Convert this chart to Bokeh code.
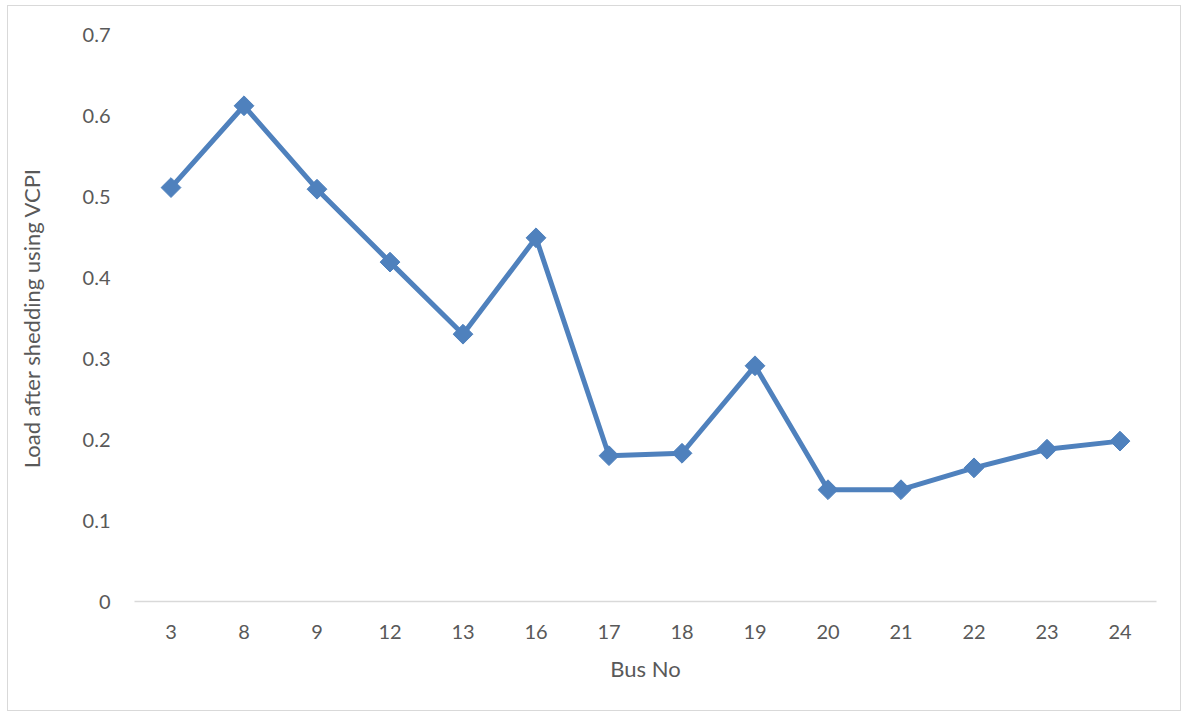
import math
from bokeh.plotting import figure
from bokeh.models import FactorRange, Range1d, FixedTicker
from bokeh.embed import file_html
from bokeh.resources import INLINE

buses = ["3", "8", "9", "12", "13", "16", "17", "18", "19", "20", "21", "22", "23", "24"]
load_after = [0.511, 0.612, 0.509, 0.419, 0.330, 0.449, 0.180, 0.183, 0.291, 0.138, 0.138, 0.165, 0.188, 0.198]
y_ticks = [0, 0.1, 0.2, 0.3, 0.4, 0.5, 0.6, 0.7]
y_labels = {0: "0", 0.1: "0.1", 0.2: "0.2", 0.3: "0.3", 0.4: "0.4", 0.5: "0.5", 0.6: "0.6", 0.7: "0.7"}

FONT = "Lato"
TXT = "#595959"
BLUE = "#4F81BD"

p = figure(width=1174, height=706, x_range=FactorRange(*buses, range_padding=0),
           y_range=Range1d(0, 0.7), output_backend="svg", toolbar_location=None,
           min_border_left=126, min_border_right=26, min_border_top=28, min_border_bottom=111)
p.styles = {"border": "1px solid #D9D9D9", "margin-left": "7px", "margin-top": "5px"}
p.outline_line_color = None
p.grid.visible = False
p.background_fill_color = "white"

p.line(x=buses, y=load_after, line_color=BLUE, line_width=5)
p.scatter(x=buses, y=load_after, marker="square", size=14, angle=math.pi / 4,
          fill_color=BLUE, line_color=BLUE)

xa = p.xaxis[0]
xa.axis_line_color = "#D9D9D9"
xa.axis_line_width = 1.5
xa.major_tick_line_color = None
xa.minor_tick_line_color = None
xa.major_label_text_font = FONT
xa.major_label_text_font_size = "20px"
xa.major_label_text_color = TXT
xa.major_label_standoff = 17
xa.axis_label = "Bus No"
xa.axis_label_text_font = FONT
xa.axis_label_text_font_size = "22px"
xa.axis_label_text_font_style = "normal"
xa.axis_label_text_color = TXT
xa.axis_label_standoff = 13

ya = p.yaxis[0]
ya.ticker = FixedTicker(ticks=y_ticks)
ya.major_label_overrides = y_labels
ya.axis_line_color = None
ya.major_tick_line_color = None
ya.minor_tick_line_color = None
ya.major_label_text_font = FONT
ya.major_label_text_font_size = "20px"
ya.major_label_text_color = TXT
ya.major_label_standoff = 18
ya.axis_label = "Load after shedding using VCPI"
ya.axis_label_text_font = FONT
ya.axis_label_text_font_size = "22px"
ya.axis_label_text_font_style = "normal"
ya.axis_label_text_color = TXT
ya.axis_label_standoff = 35

open("out.html", "w").write(file_html(p, INLINE))
